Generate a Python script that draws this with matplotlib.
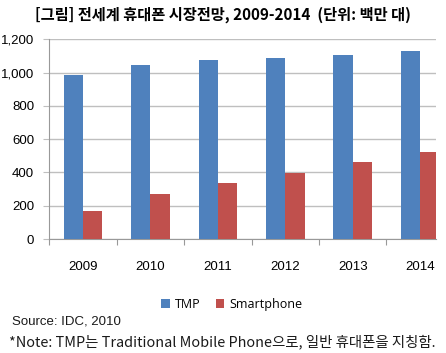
import matplotlib
matplotlib.use('Agg')
import matplotlib.pyplot as plt
import numpy as np

# Data (millions of units)
YEARS = ['2009', '2010', '2011', '2012', '2013', '2014']
TMP = [983, 1047, 1074, 1090, 1108, 1132]
SMARTPHONE = [170, 271, 335, 397, 463, 524]

BLUE = '#4f81bd'
RED = '#c0504d'
GRID = '#bfbfbf'
KR_FONT = ['Noto Sans CJK KR', 'DejaVu Sans']

plt.rcParams['font.family'] = ['Liberation Sans', 'DejaVu Sans']

fig = plt.figure(figsize=(4.46, 3.53), dpi=100)
ax = fig.add_axes([0.1105, 0.3229, 0.8671, 0.5658])

x = np.arange(len(YEARS))
width = 0.287
ax.bar(x - width / 2, TMP, width, color=BLUE, label='TMP', zorder=3)
ax.bar(x + width / 2, SMARTPHONE, width, color=RED, label='Smartphone', zorder=3)

ax.set_xlim(-0.5, 5.235)
ax.set_ylim(0, 1200)
ax.set_yticks(range(0, 1201, 200))
ax.set_yticklabels([f'{v:,}' for v in range(0, 1201, 200)], fontsize=9.5)
ax.yaxis.grid(True, color=GRID, linewidth=1.0, zorder=0)

# boundaries get tick marks, centres get the year labels
ax.set_xticks(np.arange(-0.5, 5.5, 1.0))
ax.set_xticklabels([])
ax.set_xticks(x, minor=True)
ax.set_xticklabels(YEARS, minor=True, fontsize=9.5)
ax.tick_params(axis='x', which='major', length=4, color='#999999', direction='out')
ax.tick_params(axis='x', which='minor', length=0, pad=16)
ax.tick_params(axis='y', length=4, color=GRID, pad=7)

for side in ['top', 'right']:
    ax.spines[side].set_visible(False)
ax.spines['left'].set_color('#999999')
ax.spines['bottom'].set_color('#999999')

fig.text(0.5, 0.957, '[그림] 전세계 휴대폰 시장전망, 2009-2014  (단위: 백만 대)',
         ha='center', va='center', fontsize=11, fontweight='bold', family=KR_FONT)

fig.legend(loc='center', bbox_to_anchor=(0.52, 0.137), ncol=2, frameon=False,
           handlelength=0.7, handleheight=0.7, handletextpad=0.4,
           columnspacing=1.2, prop={'family': ['Open Sans', 'DejaVu Sans'], 'size': 9})

fig.text(0.027, 0.088, 'Source: IDC, 2010', ha='left', va='center', fontsize=9.5,
         color='#1a1a1a')
fig.text(0.02, 0.031, '*Note: TMP는 Traditional Mobile Phone으로, 일반 휴대폰을 지칭함.',
         ha='left', va='center', fontsize=10.4, color='#1a1a1a', family=KR_FONT)

fig.savefig('out.png', dpi=100)
